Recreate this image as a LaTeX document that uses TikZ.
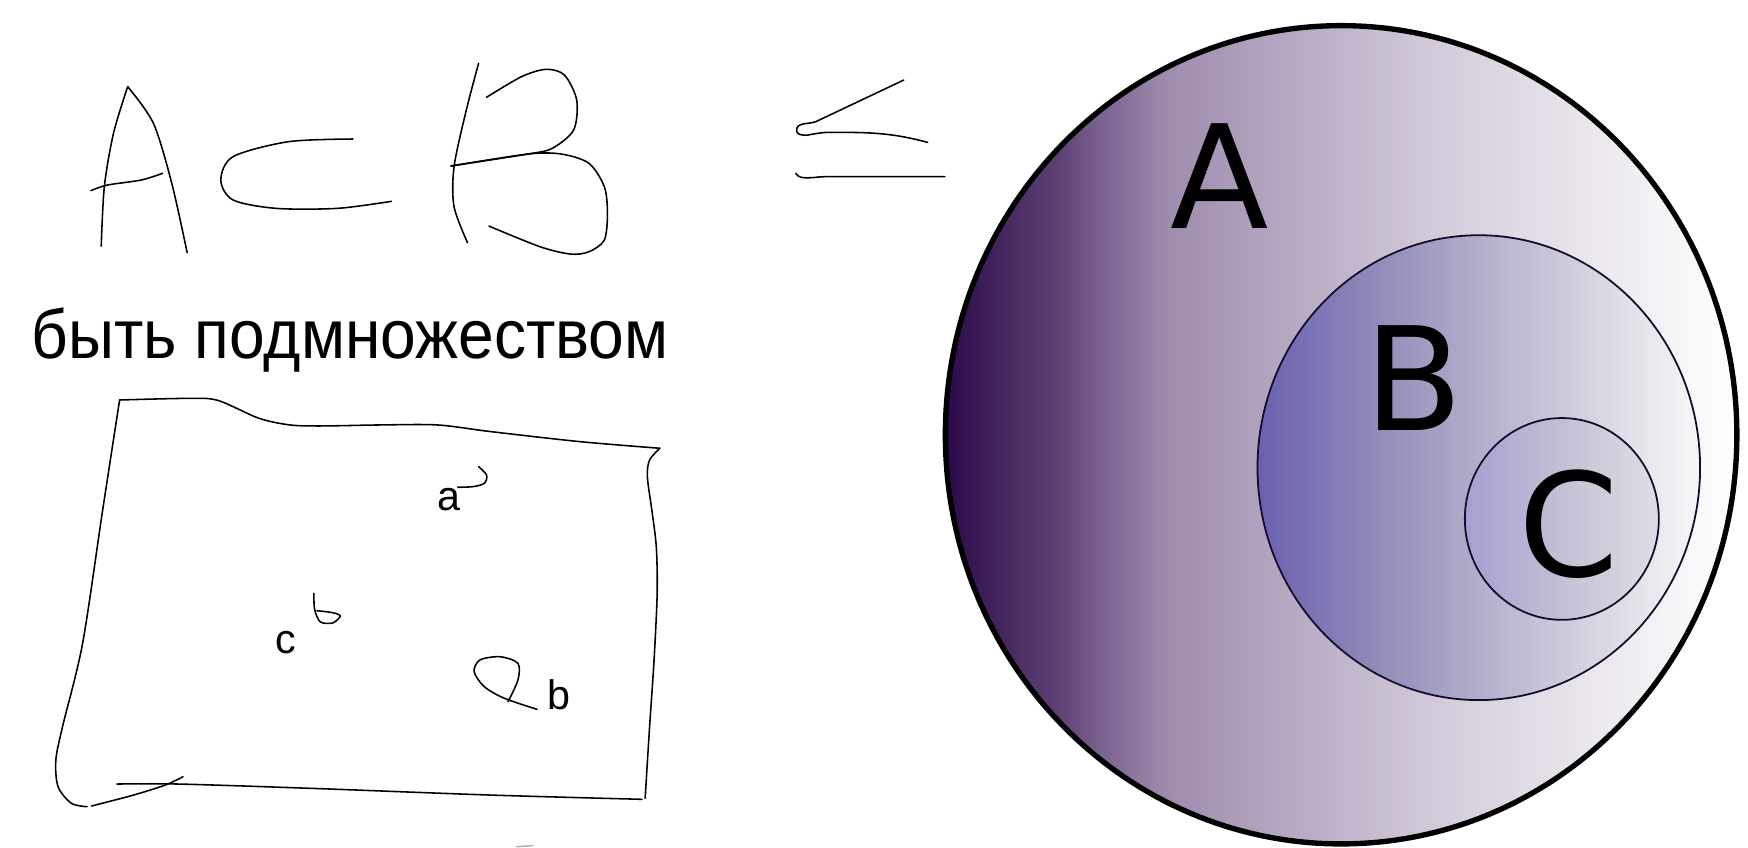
\documentclass[tikz,border=0pt]{standalone}
\usepackage{fontspec}
\setmainfont{Liberation Sans}
\newfontfamily\vennfont{DejaVu Sans}
\newfontfamily\wordfont[FakeStretch=0.927]{Liberation Sans}
\definecolor{setEdge}{HTML}{140C2C}
\definecolor{setAa}{HTML}{2C0A4A}
\definecolor{setAb}{HTML}{5E4374}
\definecolor{setAc}{HTML}{7A6290}
\definecolor{setAd}{HTML}{9E8CAD}
\definecolor{setAe}{HTML}{BBAFC6}
\definecolor{setAf}{HTML}{D6CEDC}
\definecolor{setAg}{HTML}{EEEBF0}
\definecolor{setBa}{HTML}{6A60B0}
\definecolor{setBb}{HTML}{9590BB}
\definecolor{setBc}{HTML}{B9B6CF}
\definecolor{setBd}{HTML}{DCDBE4}
\definecolor{setBe}{HTML}{F7F7F9}
\definecolor{setCa}{HTML}{A89DD2}
\definecolor{setCb}{HTML}{C4C0D4}
\definecolor{setCc}{HTML}{DFDEE4}
\pgfdeclarehorizontalshading{shadeA}{100bp}{color(0bp)=(setAa); color(25bp)=(setAa); color(32.25bp)=(setAb); color(34.8bp)=(setAc); color(39bp)=(setAd); color(48.5bp)=(setAe); color(57bp)=(setAf); color(67.5bp)=(setAg); color(75bp)=(white); color(100bp)=(white)}
\pgfdeclarehorizontalshading{shadeB}{100bp}{color(0bp)=(setBa); color(25bp)=(setBa); color(40bp)=(setBb); color(52.5bp)=(setBc); color(65bp)=(setBd); color(75bp)=(setBe); color(100bp)=(setBe)}
\pgfdeclarehorizontalshading{shadeC}{100bp}{color(0bp)=(setCa); color(25bp)=(setCa); color(50bp)=(setCb); color(75bp)=(setCc); color(100bp)=(setCc)}

\begin{document}
\begin{tikzpicture}[x=0.5pt, y=-0.5pt,
    hand/.style={line width=0.7pt, line cap=round, line join=round},
    setlabel/.style={font=\vennfont\fontsize{64.5}{70}\selectfont, inner sep=0pt},
    elem/.style={font=\fontsize{18.5}{20}\selectfont, inner sep=0pt, anchor=base}]
    \useasboundingbox (0,0) rectangle (1568,760);

    % A \subset B, written by hand
    \draw[hand] plot[smooth] coordinates {(90.8,220.7) (93.6,167.5) (101.8,119.6) (114.5,77.7)};
    \draw[hand] plot[smooth] coordinates {(114.5,77.7) (137.6,110.6) (154.1,164.5) (167.9,226.7)};
    \draw[hand] plot[smooth] coordinates {(81.5,171) (96.3,166) (126.6,161.5) (145.8,155.5)};
    \draw[hand] plot[smooth] coordinates {(316.5,124.7) (258.7,127.1) (209.1,140.5) (198.1,161.5) (209.1,179.4) (247.7,186.9) (302.7,186.9) (351.1,180.6)};
    \draw[hand] plot[smooth] coordinates {(429.3,56.8) (418.3,98.7) (407.3,149.5) (407.3,185.4) (419.4,217.7)};
    \draw[hand] plot[smooth] coordinates {(436.4,87.3) (467.8,68.8) (489.8,62.2) (506.3,67.3) (517.3,89.7) (514.6,116.6) (495.3,133.1) (473.3,138.2) (404.5,148.9)};
    \draw[hand] plot[smooth] coordinates {(404.5,148.9) (473.3,138.2) (503.6,138.2) (528.3,146.5) (542.1,167.5) (544.9,191.4) (542.1,215.3) (528.3,225.8) (511.8,227.9) (484.3,221.3) (438.6,202.8)};

    % \leq
    \draw[hand] (810.7,71.8) -- (731.9,109.1) to[out=200,in=90] (714.5,117) to[out=-90,in=180] (723.7,121.3) to[out=10,in=180] (745,118.7) to[out=0,in=165] (832.1,127.7);
    \draw[hand] (713.8,155.5) to[out=-60,in=180] (725,159.5) to[out=0,in=180] (740,158.5) -- (847.6,158.5);

    \node[font=\wordfont\fontsize{31}{36}\selectfont, inner sep=0pt, anchor=base west] (word) at (28,321.4) {быть подмножеством};

    % the set, drawn by hand
    \draw[hand] plot[smooth, tension=0.5] coordinates {(107.3,358.8) (172.2,357.3) (196.2,359.4) (232.3,375.2) (260.3,381.2) (288.3,382.1) (340.4,381.2) (392.5,381.2) (440.5,387.2) (520.6,396.2) (591.9,402.1)};
    \draw[hand] plot[smooth, tension=0.5] coordinates {(591.9,402.1) (582.7,412.6) (580.7,427.6) (584.7,457.5) (588.7,490.4) (589.5,532.2) (586.7,592.0) (582.7,651.8) (578.7,716.1)};
    \draw[hand] plot[smooth, tension=0.5] coordinates {(107.3,358.8) (92.1,457.5) (74.1,577.1) (56.1,651.8) (50.1,681.8) (52.1,705.7) (64.1,720.6) (78.1,723.6)};
    \draw[hand] plot[smooth, tension=0.5] coordinates {(104.9,703.3) (160.2,703.3) (280.3,707.2) (440.5,713.2) (575.9,717.0)};
    \draw[hand] plot[smooth] coordinates {(82.1,723.0) (120.1,713.1) (148.2,704.2) (164.2,696.7)};

    \node[elem] (elA) at (402.5,457.5) {a};
    \node[elem] (elB) at (501.6,636.3) {b};
    \node[elem] (elC) at (256,586) {c};
    \draw[hand] plot[smooth] coordinates {(410.5,437.1) (424.5,436.5) (434.5,433.5) (436.5,426.1) (429.3,418.6)};
    \draw[hand] plot[smooth] coordinates {(281.5,532.2) (282.3,547.0) (287.4,557.9) (298.4,558.8) (305.2,552.6) (298.4,549.6) (284.3,547.8)};
    \draw[hand] plot[smooth] coordinates {(455.7,629.4) (464.6,610.0) (464.6,595.0) (448.5,589.1) (430.5,592.0) (425.3,602.5) (434.5,616.0) (452.5,626.4) (481.8,636.3)};
    \draw[hand, gray!60] (463,759.5) -- (478,758.5);

    % A \supset B \supset C
    \shadedraw[shading=shadeA, draw=black, line width=2.4pt] (1203,390) ellipse [x radius=355, y radius=367];
    \shadedraw[shading=shadeB, draw=setEdge, line width=0.8pt] (1326.5,419.5) ellipse [x radius=198.5, y radius=208.5];
    \shadedraw[shading=shadeC, draw=setEdge, line width=0.8pt] (1401,465.5) ellipse [x radius=87, y radius=90.5];
    \node[setlabel] (labA) at (1094,158) {A};
    \node[setlabel] (labB) at (1268.5,339) {B};
    \node[setlabel] (labC) at (1407,470.6) {C};
\end{tikzpicture}
\end{document}
